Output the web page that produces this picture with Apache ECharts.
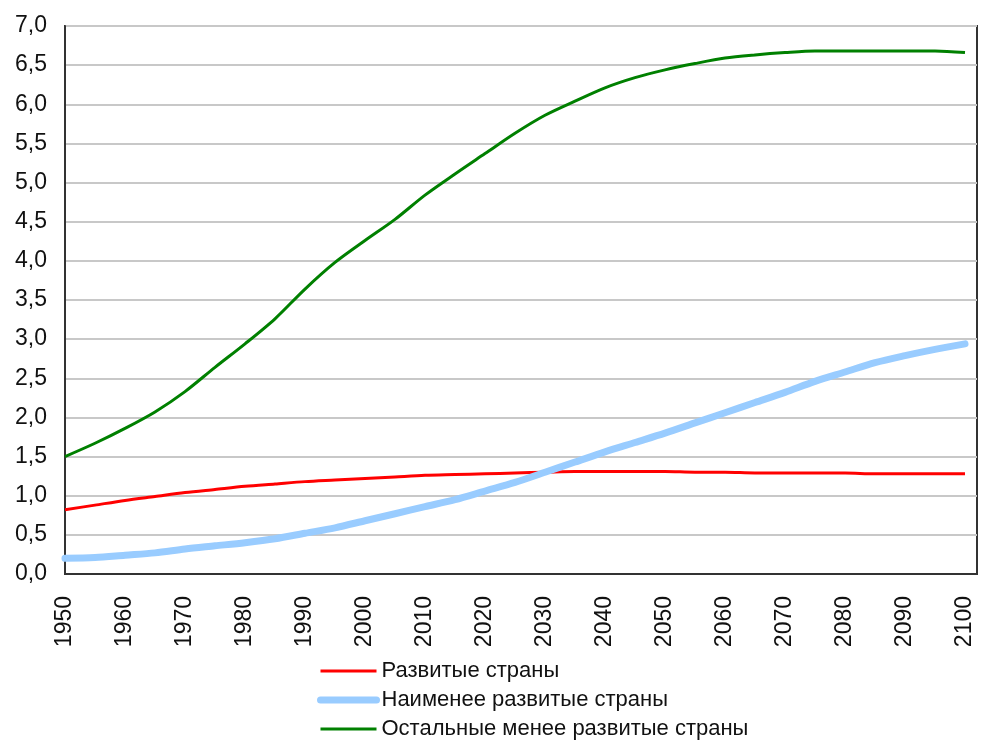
<!DOCTYPE html>
<html>
<head>
<meta charset="utf-8">
<script src="https://cdn.jsdelivr.net/npm/echarts@6/dist/echarts.min.js"></script>
<style>
html,body{margin:0;padding:0;background:#fff;}
#chart{width:982px;height:740px;}
</style>
</head>
<body>
<div id="chart"></div>
<script>
const years = [1950,1955,1960,1965,1970,1975,1980,1985,1990,1995,2000,2005,2010,2015,2020,2025,2030,2035,2040,2045,2050,2055,2060,2065,2070,2075,2080,2085,2090,2095,2100];
const developed = [0.82,0.88,0.94,0.99,1.04,1.08,1.12,1.15,1.18,1.20,1.22,1.24,1.26,1.27,1.28,1.29,1.30,1.31,1.31,1.31,1.31,1.30,1.30,1.29,1.29,1.29,1.29,1.28,1.28,1.28,1.28];
const leastDeveloped = [0.20,0.21,0.24,0.27,0.32,0.36,0.40,0.45,0.52,0.59,0.68,0.77,0.86,0.95,1.06,1.17,1.30,1.43,1.56,1.68,1.80,1.93,2.06,2.19,2.32,2.46,2.58,2.70,2.79,2.87,2.94];
const otherLessDeveloped = [1.50,1.67,1.86,2.07,2.33,2.64,2.94,3.26,3.64,3.98,4.26,4.53,4.84,5.11,5.37,5.63,5.86,6.04,6.21,6.34,6.44,6.52,6.59,6.63,6.66,6.68,6.68,6.68,6.68,6.68,6.66];
const seriesNames = ['Развитые страны','Наименее развитые страны','Остальные менее развитые страны'];
const yTicks = [0,0.5,1,1.5,2,2.5,3,3.5,4,4.5,5,5.5,6,6.5,7];

const pair = arr => years.map((y,i)=>[y,arr[i]]);
const font = '"Liberation Sans", Arial, sans-serif';

const chart = echarts.init(document.getElementById('chart'), null, {renderer:'canvas'});
chart.setOption({
  animation:false,
  backgroundColor:'#fff',
  grid:{left:65, right:5, top:26, bottom:166, show:true, borderColor:'#333', borderWidth:2, backgroundColor:'transparent'},
  xAxis:{
    type:'value', min:1950, max:2102, interval:10,
    axisLine:{show:true, lineStyle:{color:'#333', width:2}},
    axisTick:{show:false},
    splitLine:{show:false},
    axisLabel:{rotate:90, margin:22, color:'#111', fontSize:23, fontFamily:font,
      formatter:v => (v % 10 === 0 ? String(v) : '')}
  },
  yAxis:{
    type:'value', min:yTicks[0], max:yTicks[yTicks.length-1], interval:0.5,
    axisLine:{show:true, lineStyle:{color:'#333', width:2}},
    axisTick:{show:false},
    splitLine:{show:true, lineStyle:{color:'#c8c8c8', width:2}},
    axisLabel:{margin:18, color:'#111', fontSize:23, fontFamily:font,
      formatter:v => v.toFixed(1).replace('.', ',')}
  },
  legend:{
    orient:'vertical', left:317, top:660, bottom:0, padding:0,
    itemWidth:56, itemHeight:14, itemGap:7,
    itemStyle:{opacity:0},
    textStyle:{fontSize:22, fontFamily:font, color:'#111'},
    data:[
      {name:seriesNames[0], lineStyle:{width:3, color:'#ff0000'}},
      {name:seriesNames[1], lineStyle:{width:7, color:'#99ccff', cap:'round'}},
      {name:seriesNames[2], lineStyle:{width:3, color:'#008000'}}
    ]
  },
  series:[
    {name:seriesNames[0], type:'line', data:pair(developed), symbol:'none', smooth:0.3,
     lineStyle:{color:'#ff0000', width:3}, itemStyle:{color:'#ff0000'}},
    {name:seriesNames[1], type:'line', data:pair(leastDeveloped), symbol:'none', smooth:0.3,
     lineStyle:{color:'#99ccff', width:7, cap:'round'}, itemStyle:{color:'#99ccff'}},
    {name:seriesNames[2], type:'line', data:pair(otherLessDeveloped), symbol:'none', smooth:0.3,
     lineStyle:{color:'#008000', width:3}, itemStyle:{color:'#008000'}}
  ]
});
</script>
</body>
</html>
